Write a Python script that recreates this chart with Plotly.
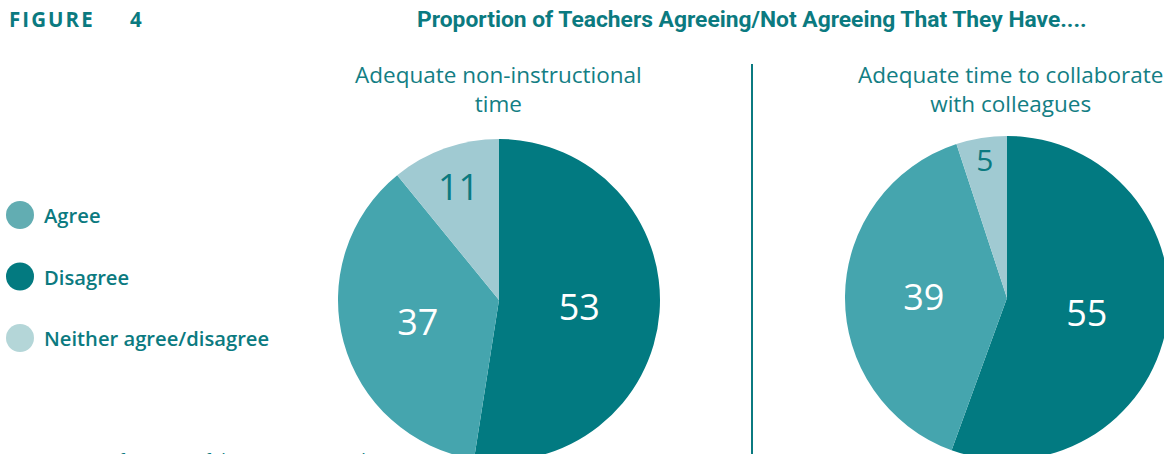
import plotly.graph_objects as go

# ---- data ----
categories = ["Disagree", "Agree", "Neither agree/disagree"]
legend_order = ["Agree", "Disagree", "Neither agree/disagree"]
pie1_title = "Adequate non-instructional<br>time"
pie1_values = [53, 37, 11]
pie2_title = "Adequate time to collaborate<br>with colleagues"
pie2_values = [55, 39, 5]
main_title = "Proportion of Teachers Agreeing/Not Agreeing That They Have...."
fig_label = "FIGURE 4"
source_text = "Source: MetLife Survey of the American Teacher"

# ---- styles ----
W, H = 1180, 470
TEAL = "#0b7a80"
slice_colors = {"Disagree": "#027a81", "Agree": "#45a5ae", "Neither agree/disagree": "#a0cad2"}
legend_colors = {"Agree": "#62adb2", "Disagree": "#037a80", "Neither agree/disagree": "#b4d6d8"}
text_colors = {"Disagree": "white", "Agree": "white", "Neither agree/disagree": TEAL}
BODY = "Open Sans, Noto Sans, sans-serif"

def px_x(p):
    return p / W

def px_y(p):
    return 1 - p / H

def pie_domain(cx, cy, r):
    return dict(x=[px_x(cx - r), px_x(cx + r)], y=[px_y(cy + r), px_y(cy - r)])

fig = go.Figure()
for vals, (cx, cy, r) in [(pie1_values, (499, 300, 161)), (pie2_values, (1007, 298, 162))]:
    fig.add_trace(go.Pie(
        labels=categories, values=vals, sort=False, direction="clockwise", rotation=0,
        marker=dict(colors=[slice_colors[c] for c in categories], line=dict(width=0)),
        textinfo="value", texttemplate="%{value}", textposition="inside",
        insidetextorientation="horizontal",
        textfont=dict(family=BODY, size=36, color=[text_colors[c] for c in categories], weight=500),
        hoverinfo="label+value", showlegend=False,
        domain=pie_domain(cx, cy, r),
    ))

annotations = []
shapes = []
# figure label
letters = list(fig_label.replace(" ", ""))
spaced = "\u200a".join(letters[:-1]) + "\u00a0" * 7 + letters[-1]
annotations.append(dict(text=f"<b>{spaced}</b>", x=px_x(7), y=px_y(19), xref="paper", yref="paper",
                        xanchor="left", yanchor="middle", showarrow=False,
                        font=dict(family=BODY, size=20.5, color=TEAL)))
annotations.append(dict(text=f"<b>{main_title}</b>", x=px_x(752), y=px_y(19), xref="paper", yref="paper",
                        xanchor="center", yanchor="middle", showarrow=False,
                        font=dict(family="Liberation Sans Narrow, Roboto, sans-serif", size=22.8, color=TEAL)))
for t, cx in [(pie1_title, 498), (pie2_title, 1010)]:
    annotations.append(dict(text=t, x=px_x(cx), y=px_y(89), xref="paper", yref="paper",
                            xanchor="center", yanchor="middle", showarrow=False,
                            font=dict(family=BODY, size=22.5, color="#137e84")))
# legend
for i, name in enumerate(legend_order):
    cy = 215 + i * 61.5
    shapes.append(dict(type="circle", xref="paper", yref="paper", xsizemode="pixel", ysizemode="pixel",
                       xanchor=px_x(20), yanchor=px_y(cy), x0=-14, x1=14, y0=-14, y1=14,
                       fillcolor=legend_colors[name], line=dict(width=0)))
    annotations.append(dict(text=name, x=px_x(42), y=px_y(cy), xref="paper", yref="paper",
                            xanchor="left", yanchor="middle", showarrow=False,
                            font=dict(family=BODY, size=20.2, color=TEAL, weight=600)))
# divider
shapes.append(dict(type="line", xref="paper", yref="paper", x0=px_x(752), x1=px_x(752),
                   y0=px_y(64), y1=px_y(470), line=dict(color=TEAL, width=2)))
# source (clipped at the bottom)
annotations.append(dict(text=f"<i>{source_text}</i>", x=px_x(9), y=px_y(446), xref="paper", yref="paper",
                        xanchor="left", yanchor="top", showarrow=False,
                        font=dict(family=BODY, size=18, color=TEAL)))

fig.update_layout(
    width=W, height=H, margin=dict(l=0, r=0, t=0, b=0),
    paper_bgcolor="white", plot_bgcolor="white",
    annotations=annotations, shapes=shapes,
)

fig.write_html("out.html", config={"displayModeBar": False}, post_script=(
    "document.body.style.margin='0';document.body.style.overflow='hidden';"
    "document.documentElement.style.overflow='hidden';"))
